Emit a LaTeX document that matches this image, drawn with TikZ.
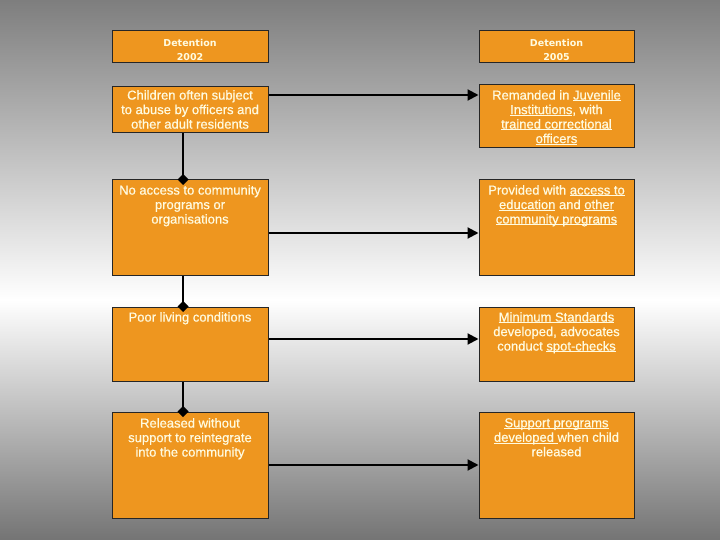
\documentclass[tikz,border=0pt]{standalone}
\usepackage{fontspec}
\setmainfont[FakeBold=0.6]{Liberation Sans}
\newfontfamily\headfont{DejaVu Sans}
\usetikzlibrary{arrows.meta}
\definecolor{boxor}{HTML}{EE961F}
\definecolor{txt}{HTML}{FFFBE0}
\definecolor{bgtop}{HTML}{7E7E7E}
\definecolor{bgbot}{HTML}{747474}
\newlength\myulw
\newcommand\myul[1]{\settowidth\myulw{#1}\rlap{\rule[-1.7pt]{\myulw}{0.9pt}}#1}
\begin{document}
\begin{tikzpicture}[x=1pt,y=-1pt,
  box/.style={draw=black!85, line width=1pt, fill=boxor, inner sep=0pt},
  txtn/.style={text=txt, font=\fontsize{13}{14.5}\selectfont, align=center, inner sep=0pt, anchor=north},
  headn/.style={text=txt, font=\headfont\bfseries\fontsize{9.5}{14}\selectfont, align=center, inner sep=0pt, anchor=north},
  vline/.style={line width=2pt, -{Diamond[length=11pt,width=11pt]}, shorten >=-5.5pt},
  harr/.style={line width=2pt, -{Triangle[length=11pt,width=11pt]}}]
\shade[top color=bgtop, bottom color=white] (0,0) rectangle (720,300);
\shade[top color=white, bottom color=bgbot] (0,300) rectangle (720,540);
\useasboundingbox (0,0) rectangle (720,540);
% boxes
\node[box, minimum width=156pt, minimum height=32pt] (h1) at (190,47) {};
\node[box, minimum width=155pt, minimum height=32pt] (h2) at (556.5,47) {};
\node[box, minimum width=156pt, minimum height=46pt] (l1) at (190,110) {};
\node[box, minimum width=155pt, minimum height=63pt] (r1) at (556.5,116.5) {};
\node[box, minimum width=156pt, minimum height=95pt] (l2) at (190,227.5) {};
\node[box, minimum width=155pt, minimum height=95pt] (r2) at (556.5,227.5) {};
\node[box, minimum width=156pt, minimum height=74pt] (l3) at (190,344) {};
\node[box, minimum width=155pt, minimum height=74pt] (r3) at (556.5,344) {};
\node[box, minimum width=156pt, minimum height=106pt] (l4) at (190,465) {};
\node[box, minimum width=155pt, minimum height=106pt] (r4) at (556.5,465) {};
% texts
\node[headn] (th1) at (190,39.4) {Detention\\2002};
\node[headn] (th2) at (556.5,39.4) {Detention\\2005};
\node[txtn] (tl1) at (190,90) {Children often subject\\to abuse by officers and\\other adult residents};
\node[txtn] (tr1) at (556.5,90) {Remanded in \myul{Juvenile}\\\myul{Institutions}, with\\\myul{trained correctional}\\\myul{officers}};
\node[txtn] (tl2) at (190,185) {No access to community\\programs or\\organisations};
\node[txtn] (tr2) at (556.5,185) {Provided with \myul{access to}\\\myul{education} and \myul{other}\\\myul{community programs}};
\node[txtn] (tl3) at (190,312) {Poor living conditions};
\node[txtn] (tr3) at (556.5,312) {\myul{Minimum Standards}\\developed, advocates\\conduct \myul{spot-checks}};
\node[txtn] (tl4) at (190,418) {Released without\\support to reintegrate\\into the community};
\node[txtn] (tr4) at (556.5,418) {\myul{Support programs}\\\myul{developed\ }when child\\released};
% connectors
\coordinate (vx) at (183,0);
\coordinate (y1) at (0,95);
\coordinate (y2) at (0,233);
\coordinate (y3) at (0,339);
\coordinate (y4) at (0,465);
\draw[vline] (l1.south -| vx) -- (l2.north -| vx);
\draw[vline] (l2.south -| vx) -- (l3.north -| vx);
\draw[vline] (l3.south -| vx) -- (l4.north -| vx);
\draw[harr] (l1.east |- y1) -- (r1.west |- y1);
\draw[harr] (l2.east |- y2) -- (r2.west |- y2);
\draw[harr] (l3.east |- y3) -- (r3.west |- y3);
\draw[harr] (l4.east |- y4) -- (r4.west |- y4);
\end{tikzpicture}
\end{document}
